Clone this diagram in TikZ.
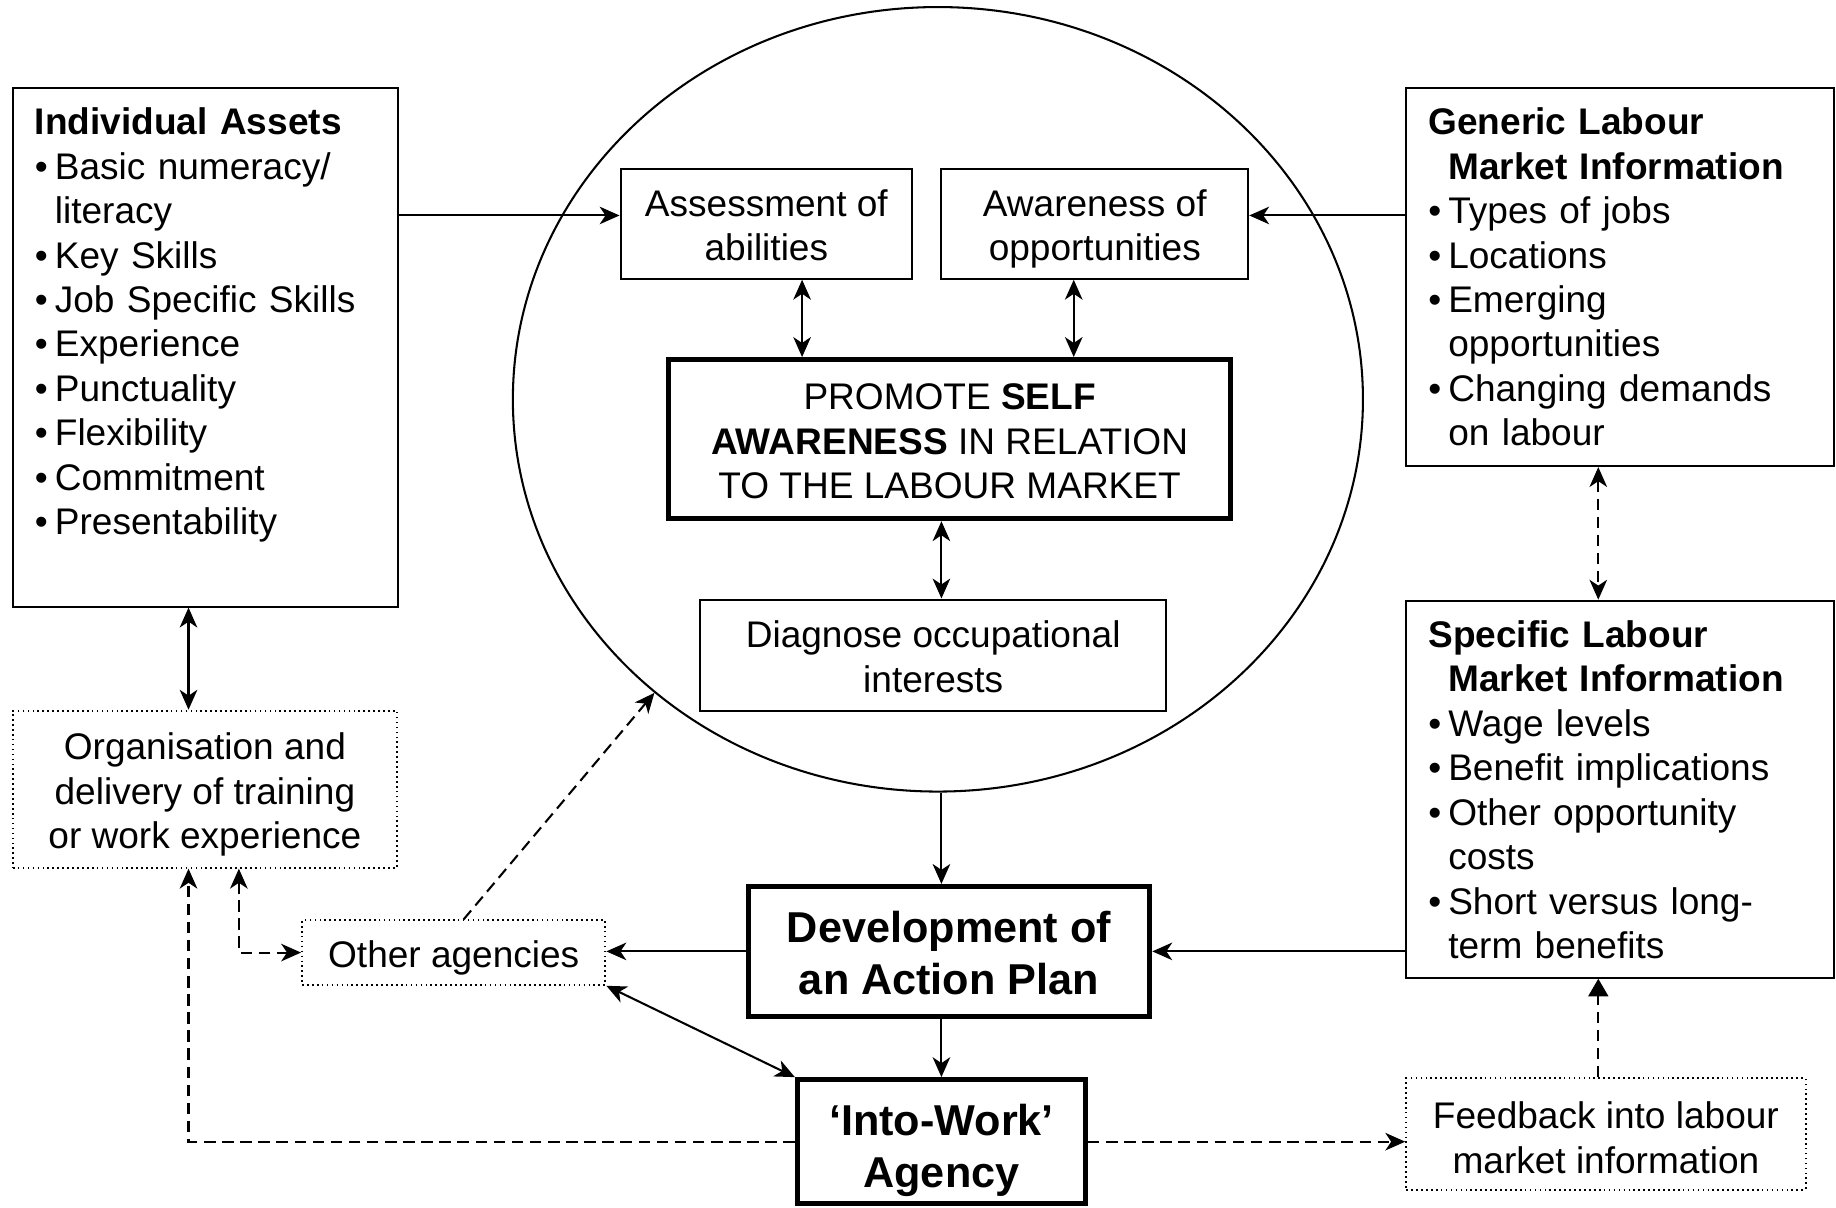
\documentclass[tikz,border=0pt]{standalone}
\usepackage{fontspec}
\setmainfont{Liberation Sans}
\usetikzlibrary{arrows.meta,calc,shapes.geometric}
\newcommand\bul{\makebox[1.7mm][l]{\textbullet}}
\newcommand\ind{\hspace*{1.7mm}}
% struts for the first and last line of a centred box
\newcommand\tup[1][1.1em]{\rule{0pt}{#1}}
\newcommand\tdn{\rule[-0.29em]{0pt}{0.29em}}

\begin{document}
\begin{tikzpicture}[x=0.1mm,y=-0.1mm,line width=0.5pt,
  >={Stealth[length=1.7mm,width=1.5mm,inset=0.5mm]}]
\tikzset{txt/.style={font=\fontsize{9pt}{10.8pt}\selectfont,inner sep=0pt},
  box/.style={draw,rectangle,txt,align=center},
  hbox/.style={box,line width=1.2pt},
  obox/.style={box,line width=0.5pt,dash pattern=on 0.4pt off 0.8pt},
  big/.style={font=\fontsize{10.5pt}{12.6pt}\selectfont\bfseries},
  con/.style={line width=0.5pt,->},
  hop/.style={line width=0.5pt,dash pattern=on 2.8pt off 1.6pt,->}}
\useasboundingbox (0,0) rectangle (1568,1031);
% ================= centre: self awareness =================
\node[draw,ellipse,minimum width=72.6mm,minimum height=67mm,inner sep=0pt] (circ) at (801,341) {};
\node[box,minimum width=24.9mm,minimum height=9.4mm] (ass) at (654.5,191) {\tup Assessment of\\abilities\tdn};
\node[box,minimum width=26.2mm,minimum height=9.4mm] (awa) at (935,191) {\tup Awareness of\\opportunities\tdn};
\node[hbox,minimum width=48mm,minimum height=13.6mm] (prom) at (811,375)
  {\tup PROMOTE \textbf{SELF}\\\textbf{AWARENESS} IN RELATION\\TO THE LABOUR MARKET\tdn};
\node[box,minimum width=39.8mm,minimum height=9.5mm] (diag) at (797,559.5) {\tup Diagnose occupational\\interests\tdn};
% ================= left column =================
\node[box,minimum width=32.9mm,minimum height=44.3mm] (assets) at (175.5,296.5) {};
\node[txt,anchor=base west,text width=31mm,align=left] (assetsT) at (29,115)
  {\textbf{Individual Assets}\\
   \bul Basic numeracy/\\ \ind literacy\\
   \bul Key Skills\\ \bul Job Specific Skills\\ \bul Experience\\
   \bul Punctuality\\ \bul Flexibility\\ \bul Commitment\\ \bul Presentability};
\node[obox,minimum width=32.8mm,minimum height=13.4mm] (org) at (175,674)
  {\tup Organisation and\\delivery of training\\or work experience\tdn};
\node[obox,minimum width=25.9mm,minimum height=5.5mm] (oth) at (387.5,813.5) {\tup Other agencies\tdn};
% ================= right column =================
\node[box,minimum width=36.5mm,minimum height=32.3mm] (gen) at (1383.5,236.5) {};
\node[txt,anchor=base west,text width=34mm,align=left] (genT) at (1219,115)
  {\textbf{Generic Labour}\\ \ind\textbf{Market Information}\\
   \bul Types of jobs\\ \bul Locations\\ \bul Emerging\\ \ind opportunities\\
   \bul Changing demands\\ \ind on labour};
\node[box,minimum width=36.5mm,minimum height=32.2mm] (spec) at (1383.5,674) {};
\node[txt,anchor=base west,text width=34mm,align=left] (specT) at (1219,553)
  {\textbf{Specific Labour}\\ \ind\textbf{Market Information}\\
   \bul Wage levels\\ \bul Benefit implications\\ \bul Other opportunity\\ \ind costs\\
   \bul Short versus long-\\ \ind term benefits};
\node[obox,minimum width=34.1mm,minimum height=9.5mm] (fb) at (1371.5,968.5)
  {\tup[1.2em]Feedback into labour\\market information\tdn};
% ================= bottom: plan and agency =================
\node[hbox,big,minimum width=34.3mm,minimum height=11.1mm] (dev) at (810.5,812.5) {\tup Development of\\an Action Plan\tdn};
\node[hbox,big,minimum width=24.6mm,minimum height=10.6mm] (into) at (804,975) {\tup[1.22em]‘Into-Work’\\Agency\tdn};
% ---------- helper points ----------
\coordinate (assIn) at ([yshift=0.7mm]ass.west);
\coordinate (awaIn) at ([yshift=0.7mm]awa.east);
\coordinate (aL) at ([xshift=-11.6mm]circ.center);
\coordinate (aR) at ([xshift=11.6mm]circ.center);
\coordinate (oL) at ([xshift=-1.4mm]org.south);
\coordinate (oR) at ([xshift=2.9mm]org.south);
\coordinate (othUp) at ([xshift=0.85mm]oth.north);
\coordinate (fL) at ([xshift=-0.65mm]fb.north);
% ---------- solid connectors ----------
\draw[con] (assIn -| assets.east) -- (assIn);
\draw[con] (awaIn -| gen.west) -- (awaIn);
\draw[con,<->] (aL |- ass.south) -- (aL |- prom.north);
\draw[con,<->] (aR |- awa.south) -- (aR |- prom.north);
\draw[con,<->] (prom.south -| into.north) -- (diag.north -| into.north);
\draw[con] (circ.south -| into.north) -- (dev.north -| into.north);
\draw[con] (dev.south -| into.north) -- (into.north);
\draw[con] (dev.west) -- (dev.west -| oth.east);
\draw[con] (dev.east -| spec.west) -- (dev.east);
\draw[con,<->] (oth.south east) -- (into.north west);
\draw[con,<->] (oL |- assets.south) -- (oL |- org.north);
% ---------- dashed connectors ----------
\draw[hop] (othUp) -- (circ.226);
\draw[hop,<->] (oR) |- (oth.west);
\draw[hop] (into.west) -| (oL);
\draw[hop] (into.east) -- (into.east -| fb.west);
\draw[hop,<->] (fL |- gen.south) -- (fL |- spec.north);
\draw[hop,-{Triangle[length=1.5mm,width=1.7mm]}] (fL) -- (fL |- spec.south);
\end{tikzpicture}
\end{document}
